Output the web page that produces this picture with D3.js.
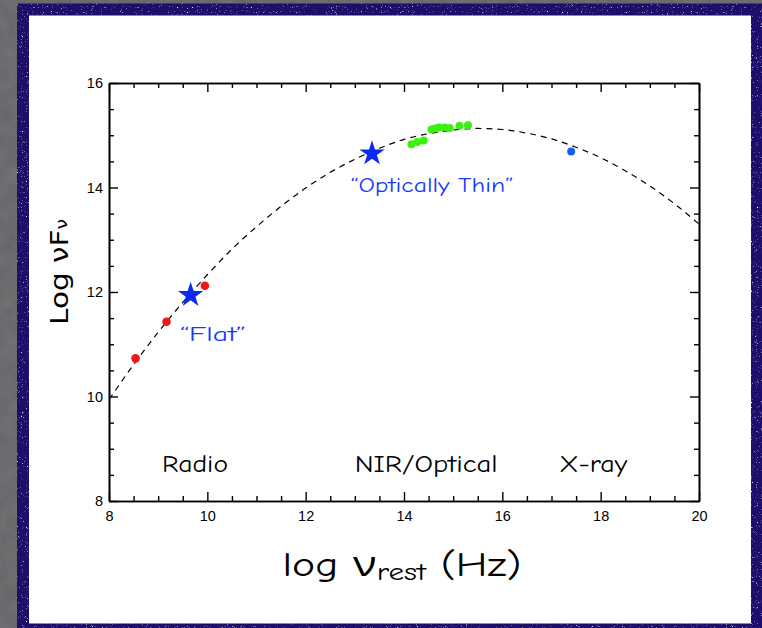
<!DOCTYPE html>
<html>
<head>
<meta charset="utf-8">
<script src="https://cdn.jsdelivr.net/npm/d3@7"></script>
<style>
  html, body { margin: 0; padding: 0; background: #5f6062; }
  svg { display: block; }
</style>
</head>
<body>
<script>
// ---------------- data ----------------
const xTicks = [8, 10, 12, 14, 16, 18, 20];
const yTicks = [8, 10, 12, 14, 16];
const xMinor = [8.5, 9, 9.5, 10.5, 11, 11.5, 12.5, 13, 13.5, 14.5, 15, 15.5, 16.5, 17, 17.5, 18.5, 19, 19.5];
const yMinor = [8.5, 9, 9.5, 10.5, 11, 11.5, 12.5, 13, 13.5, 14.5, 15, 15.5];

const radioX = [8.54, 9.17, 9.95];
const radioY = [10.73, 11.43, 12.12];

const opticalX = [14.15, 14.27, 14.40, 14.56, 14.63, 14.71, 14.83, 14.93, 15.13, 15.30];
const opticalY = [14.83, 14.87, 14.90, 15.11, 15.13, 15.15, 15.15, 15.14, 15.18, 15.19];

const xrayX = [17.40];
const xrayY = [14.69];

const starX = [9.66, 13.35];
const starY = [11.94, 14.65];
const starLabels = ["\u201CFlat\u201D", "\u201COptically Thin\u201D"];

// dashed model curve
const curveX = [8, 8.5, 9, 9.5, 10, 10.5, 11, 11.5, 12, 12.5, 13, 13.5, 14, 14.5, 15, 15.5, 16, 16.5, 17, 17.5, 18, 18.5, 19, 19.5, 20];
const curveY = [9.94, 10.61, 11.23, 11.80, 12.33, 12.82, 13.25, 13.64, 13.99, 14.29, 14.54, 14.75, 14.92, 15.03, 15.10, 15.13, 15.11, 15.04, 14.93, 14.77, 14.57, 14.32, 14.03, 13.69, 13.30];

const bandLabels = ["Radio", "NIR/Optical", "X-ray"];
const bandX = [9.75, 14.45, 17.85];
const bandY = 8.55;

// ---------------- drawing ----------------
const W = 762, H = 628;
const svg = d3.select("body").append("svg").attr("width", W).attr("height", H);

const defs = svg.append("defs");
const speck = defs.append("filter").attr("id", "speck").attr("filterUnits", "userSpaceOnUse")
  .attr("x", 0).attr("y", 0).attr("width", W).attr("height", H)
  .attr("color-interpolation-filters", "sRGB");
speck.append("feTurbulence").attr("type", "fractalNoise").attr("baseFrequency", 1.2).attr("numOctaves", 1).attr("seed", 5).attr("result", "n");
speck.append("feColorMatrix").attr("in", "n").attr("type", "matrix")
  .attr("values", "0 0 0 0 1  0 0 0 0 1  0 0 0 0 1  6 0 0 0 -3.9").attr("result", "dots");
speck.append("feComposite").attr("in", "dots").attr("in2", "SourceGraphic").attr("operator", "in").attr("result", "d2");
speck.append("feMerge").selectAll("feMergeNode").data(["SourceGraphic", "d2"]).join("feMergeNode").attr("in", d => d);

const stone = defs.append("filter").attr("id", "stone").attr("filterUnits", "userSpaceOnUse")
  .attr("x", 0).attr("y", 0).attr("width", W).attr("height", H);
stone.append("feTurbulence").attr("type", "fractalNoise").attr("baseFrequency", 0.06).attr("numOctaves", 3).attr("seed", 7);
stone.append("feColorMatrix").attr("type", "matrix")
  .attr("values", "0 0 0 0 0.30  0 0 0 0 0.31  0 0 0 0 0.32  0 0 0 0.5 0");

// background
svg.append("rect").attr("width", W).attr("height", H).attr("fill", "#626365");
svg.append("rect").attr("width", W).attr("height", H).attr("filter", "url(#stone)").attr("opacity", 0.7);

// white panel with navy frame
svg.append("rect").attr("x", 22).attr("y", 9).attr("width", 736).attr("height", 624).attr("fill", "#ffffff");
svg.append("rect").attr("x", 23).attr("y", 9.5).attr("width", 734).attr("height", 620)
  .attr("fill", "none").attr("stroke", "#1c0f6c").attr("stroke-width", 12).attr("filter", "url(#speck)");

const x = d3.scaleLinear().domain([8, 20]).range([109, 699]);
const y = d3.scaleLinear().domain([8, 16]).range([501, 83]);

const tickFont = "'Liberation Sans', Arial, Helvetica, sans-serif";

function styleAxis(g) {
  g.selectAll("path.domain").attr("stroke", "#000").attr("stroke-width", 1.6);
  g.selectAll(".tick line").attr("stroke", "#000").attr("stroke-width", 1.4);
  g.selectAll(".tick text").attr("font-family", tickFont).attr("font-size", 14.5).attr("fill", "#000");
}

// major axes
svg.append("g").attr("transform", `translate(0,${y(8)})`)
  .call(d3.axisBottom(x).tickValues(xTicks).tickSize(-9).tickSizeOuter(0).tickPadding(10).tickFormat(d3.format("d")))
  .call(styleAxis);
svg.append("g").attr("transform", `translate(0,${y(16)})`)
  .call(d3.axisTop(x).tickValues(xTicks).tickSize(-9).tickSizeOuter(0).tickFormat(""))
  .call(styleAxis);
svg.append("g").attr("transform", `translate(${x(8)},0)`)
  .call(d3.axisLeft(y).tickValues(yTicks).tickSize(-9).tickSizeOuter(0).tickPadding(6).tickFormat(d3.format("d")))
  .call(styleAxis);
svg.append("g").attr("transform", `translate(${x(20)},0)`)
  .call(d3.axisRight(y).tickValues(yTicks).tickSize(-9).tickSizeOuter(0).tickFormat(""))
  .call(styleAxis);

// minor ticks
svg.append("g").attr("transform", `translate(0,${y(8)})`)
  .call(d3.axisBottom(x).tickValues(xMinor).tickSize(-5).tickSizeOuter(0).tickFormat(""))
  .call(styleAxis);
svg.append("g").attr("transform", `translate(0,${y(16)})`)
  .call(d3.axisTop(x).tickValues(xMinor).tickSize(-5).tickSizeOuter(0).tickFormat(""))
  .call(styleAxis);
svg.append("g").attr("transform", `translate(${x(8)},0)`)
  .call(d3.axisLeft(y).tickValues(yMinor).tickSize(-5).tickSizeOuter(0).tickFormat(""))
  .call(styleAxis);
svg.append("g").attr("transform", `translate(${x(20)},0)`)
  .call(d3.axisRight(y).tickValues(yMinor).tickSize(-5).tickSizeOuter(0).tickFormat(""))
  .call(styleAxis);

// clip
defs.append("clipPath").attr("id", "plotclip").append("rect")
  .attr("x", x(8)).attr("y", y(16)).attr("width", x(20) - x(8)).attr("height", y(8) - y(16));

// dashed curve
const curvePts = curveX.map((v, i) => [v, curveY[i]]);
svg.append("path").datum(curvePts)
  .attr("clip-path", "url(#plotclip)")
  .attr("d", d3.line().x(d => x(d[0])).y(d => y(d[1])).curve(d3.curveMonotoneX))
  .attr("fill", "none").attr("stroke", "#000").attr("stroke-width", 1.2).attr("stroke-dasharray", "6,5");

// points
const pts = svg.append("g");
pts.selectAll("circle.radio").data(radioX.map((v, i) => [v, radioY[i]])).join("circle")
  .attr("cx", d => x(d[0])).attr("cy", d => y(d[1])).attr("r", 4.3).attr("fill", "#f21418");
pts.selectAll("circle.opt").data(opticalX.map((v, i) => [v, opticalY[i]])).join("circle")
  .attr("cx", d => x(d[0])).attr("cy", d => y(d[1])).attr("r", 4).attr("fill", "#3cf014");
pts.selectAll("circle.xray").data(xrayX.map((v, i) => [v, xrayY[i]])).join("circle")
  .attr("cx", d => x(d[0])).attr("cy", d => y(d[1])).attr("r", 4).attr("fill", "#1060f5");

// stars
const star = d3.symbol().type(d3.symbolStar).size(200);
svg.selectAll("path.star").data(starX.map((v, i) => [v, starY[i]])).join("path")
  .attr("transform", d => `translate(${x(d[0])},${y(d[1])})`)
  .attr("d", star).attr("fill", "#0a2af2");

const labelFont = "'Comic Sans MS', 'Comic Neue', 'Open Sans', sans-serif";
// star labels
const starLabelPos = [[213, 341, 66], [432, 192, 163]];
svg.selectAll("text.starlab").data(starLabels).join("text")
  .attr("x", (d, i) => starLabelPos[i][0]).attr("y", (d, i) => starLabelPos[i][1])
  .attr("text-anchor", "middle")
  .attr("font-family", labelFont).attr("font-size", 21).attr("fill", "#1838ff")
  .attr("textLength", (d, i) => starLabelPos[i][2]).attr("lengthAdjust", "spacingAndGlyphs")
  .text(d => d);

// band labels
const bandW = [66, 143, 68];
svg.selectAll("text.band").data(bandLabels).join("text")
  .attr("x", (d, i) => x(bandX[i])).attr("y", y(bandY))
  .attr("text-anchor", "middle")
  .attr("font-family", labelFont).attr("font-size", 24).attr("fill", "#000")
  .attr("textLength", (d, i) => bandW[i]).attr("lengthAdjust", "spacingAndGlyphs")
  .text(d => d);

// axis titles
const xt = svg.append("text").attr("x", 402).attr("y", 576).attr("text-anchor", "middle")
  .attr("font-family", labelFont).attr("font-size", 35).attr("fill", "#000")
  .attr("textLength", 239).attr("lengthAdjust", "spacingAndGlyphs");
xt.append("tspan").text("log \u03BD");
xt.append("tspan").attr("font-size", 25).attr("dy", 4).text("rest");
xt.append("tspan").attr("dy", -4).text(" (Hz)");

const titleFont = "'DejaVu Sans', 'Liberation Sans', sans-serif";
const yt = svg.append("text").attr("transform", "translate(68,272) rotate(-90)").attr("text-anchor", "middle")
  .attr("font-family", titleFont).attr("font-size", 25).attr("fill", "#000")
  .attr("textLength", 106).attr("lengthAdjust", "spacingAndGlyphs");
yt.append("tspan").text("Log \u03BDF");
yt.append("tspan").attr("font-size", 16).attr("dy", -1).text("\u03BD");
</script>
</body>
</html>
